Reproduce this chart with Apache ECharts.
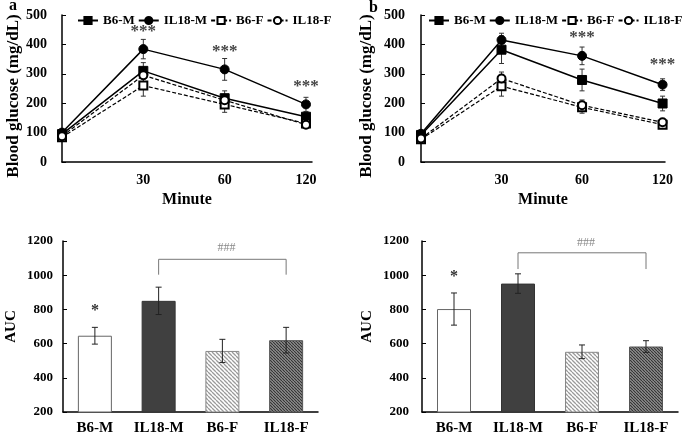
<!DOCTYPE html>
<html><head><meta charset="utf-8">
<script src="https://cdn.jsdelivr.net/npm/echarts/dist/echarts.min.js"></script>
<style>html,body{margin:0;padding:0;background:#fff}#c{width:685px;height:436px}</style>
</head><body><div id="c"></div>
<script>
// ---------- data ----------
const timeLabels = ['', '30', '60', '120'];
const groupNames = ['B6-M', 'IL18-M', 'B6-F', 'IL18-F'];

// panel a: blood glucose (mg/dL)
const aB6M = [95, 310, 217, 154];
const aIL18M = [100, 384, 315, 196];
const aB6F = [84, 260, 196, 131];
const aIL18F = [88, 295, 210, 127];
const aB6MErr = [8, 28, 25, 15];
const aIL18MErr = [10, 33, 37, 24];
const aB6FErr = [8, 36, 27, 12];
const aIL18FErr = [8, 22, 18, 10];
const aSigText = ['', '***', '***', '***'];
const aSigY = [null, 443, 375, 258];

// panel b: blood glucose (mg/dL)
const bB6M = [92, 382, 279, 199];
const bIL18M = [96, 415, 361, 263];
const bB6F = [77, 258, 186, 127];
const bIL18F = [80, 284, 193, 135];
const bB6MErr = [8, 47, 37, 25];
const bIL18MErr = [8, 23, 30, 20];
const bB6FErr = [6, 34, 20, 10];
const bIL18FErr = [6, 22, 18, 10];
const bSigText = ['', '', '***', '***'];
const bSigY = [null, null, 424, 330];

// AUC
const aucA = [646, 850, 557, 620];
const aucAErr = [49, 80, 68, 75];
const aucB = [802, 951, 552, 583];
const aucBErr = [94, 57, 40, 34];
const aucAStar = ['*', '', '', ''];
const aucAStarY = [793, null, null, null];
const aucBStar = ['*', '', '', ''];
const aucBStarY = [993, null, null, null];
// bracket: from category, to category, top value, leg-bottom value, label, label value
const bracketA = [1, 3, 1093, 1003, '###', 1162];
const bracketB = [1, 3, 1131, 1036, '###', 1188];

// ---------- helpers ----------
const FONT = 'Liberation Serif';
function hatch(bg, fg, size, lw) {
  const c = document.createElement('canvas');
  c.width = size; c.height = size;
  const g = c.getContext('2d');
  g.fillStyle = bg; g.fillRect(0, 0, size, size);
  g.strokeStyle = fg; g.lineWidth = lw;
  g.beginPath();
  for (let k = -1; k <= 1; k++) { g.moveTo(k * size, 0); g.lineTo(k * size + size, size); }
  g.stroke();
  return { image: c, repeat: 'repeat' };
}
const barStyles = [
  { color: '#ffffff', borderColor: '#666', borderWidth: 1 },
  { color: '#404040', borderColor: '#333', borderWidth: 1 },
  { color: hatch('#ffffff', '#9a9a9a', 4, 1.3), borderColor: '#888', borderWidth: 1 },
  { color: hatch('#9a9a9a', '#333333', 3, 1.2), borderColor: '#555', borderWidth: 1 }
];
const lineDefs = [
  { symbol: 'rect', size: 9, dashed: false },
  { symbol: 'circle', size: 9, dashed: false },
  { symbol: 'emptyRect', size: 8, dashed: true },
  { symbol: 'emptyCircle', size: 8, dashed: true }
];

function errRender(capW, color) {
  return function (params, api) {
    const x = api.value(0);
    const p1 = api.coord([x, api.value(1)]);
    const p2 = api.coord([x, api.value(2)]);
    const st = { stroke: color, lineWidth: 1 };
    return { type: 'group', children: [
      { type: 'line', shape: { x1: p1[0], y1: p1[1], x2: p2[0], y2: p2[1] }, style: st },
      { type: 'line', shape: { x1: p1[0] - capW, y1: p1[1], x2: p1[0] + capW, y2: p1[1] }, style: st },
      { type: 'line', shape: { x1: p2[0] - capW, y1: p2[1], x2: p2[0] + capW, y2: p2[1] }, style: st }
    ]};
  };
}
function textRender(size, color, texts) {
  return function (params, api) {
    const p = api.coord([api.value(0), api.value(1)]);
    return { type: 'text', x: p[0], y: p[1], style: {
      text: texts[params.dataIndex], font: 'bold ' + size + 'px ' + FONT, fill: color,
      align: 'center', verticalAlign: 'middle' } };
  };
}

const series = [];
function addLinePanel(idx, vals, errs, sigText, sigY) {
  vals.forEach((v, s) => {
    const d = lineDefs[s];
    series.push({
      type: 'line', name: groupNames[s], xAxisIndex: idx, yAxisIndex: idx,
      data: v.map((y, i) => [i, y]),
      symbol: d.symbol, symbolSize: d.size, showSymbol: true,
      itemStyle: { color: '#000', borderColor: '#000', borderWidth: 1 },
      lineStyle: { color: '#000', width: d.dashed ? 1.2 : 1.5, type: d.dashed ? [4, 2] : 'solid' },
      z: 3, animation: false
    });
    series.push({
      type: 'custom', xAxisIndex: idx, yAxisIndex: idx, silent: true,
      data: v.map((y, i) => [i, y - errs[s][i], y + errs[s][i]]),
      renderItem: errRender(2.5, '#333'), z: 2, animation: false
    });
  });
  const sigData = [], texts = [];
  sigY.forEach((y, i) => { if (y != null) { sigData.push([i, y]); texts.push(sigText[i]); } });
  series.push({
    type: 'custom', xAxisIndex: idx, yAxisIndex: idx, silent: true, data: sigData,
    renderItem: textRender(17, '#444', texts), animation: false
  });
}
addLinePanel(0, [aB6M, aIL18M, aB6F, aIL18F], [aB6MErr, aIL18MErr, aB6FErr, aIL18FErr], aSigText, aSigY);
addLinePanel(1, [bB6M, bIL18M, bB6F, bIL18F], [bB6MErr, bIL18MErr, bB6FErr, bIL18FErr], bSigText, bSigY);

function addBarPanel(idx, vals, errs, starText, starY, br) {
  series.push({
    type: 'bar', xAxisIndex: idx, yAxisIndex: idx, barWidth: 34,
    data: vals.map((v, i) => ({ value: v, itemStyle: barStyles[i] })),
    animation: false, silent: true
  });
  series.push({
    type: 'custom', xAxisIndex: idx, yAxisIndex: idx, silent: true,
    data: vals.map((v, i) => [i, v - errs[i], v + errs[i]]),
    renderItem: errRender(3, '#222'), z: 3, animation: false
  });
  const sd = [], st = [];
  starY.forEach((y, i) => { if (y != null) { sd.push([i, y]); st.push(starText[i]); } });
  series.push({
    type: 'custom', xAxisIndex: idx, yAxisIndex: idx, silent: true, data: sd,
    renderItem: textRender(16, '#333', st), animation: false
  });
  series.push({
    type: 'custom', xAxisIndex: idx, yAxisIndex: idx, silent: true,
    data: [[br[0], br[1], br[2], br[3], br[5]]],
    renderItem: (p, api) => {
      const L = api.coord([api.value(0), api.value(3)]);
      const LT = api.coord([api.value(0), api.value(2)]);
      const R = api.coord([api.value(1), api.value(3)]);
      const RT = api.coord([api.value(1), api.value(2)]);
      const T = api.coord([(api.value(0) + api.value(1)) / 2, api.value(4)]);
      return { type: 'group', children: [
        { type: 'polyline', shape: { points: [L, LT, RT, R] }, style: { stroke: '#777', lineWidth: 1, fill: null } },
        { type: 'text', x: T[0] + 4, y: T[1], style: { text: br[4], font: '12px ' + FONT, fill: '#888', align: 'center', verticalAlign: 'middle' } }
      ]};
    },
    animation: false
  });
}
addBarPanel(2, aucA, aucAErr, aucAStar, aucAStarY, bracketA);
addBarPanel(3, aucB, aucBErr, aucBStar, aucBStarY, bracketB);

// ---------- axes ----------
const axLine = { show: true, lineStyle: { color: '#000', width: 1.5 } };
function lineX(idx, max) {
  return { gridIndex: idx, type: 'value', min: 0, max: max, interval: 1,
    axisLine: axLine, axisTick: { show: false }, splitLine: { show: false },
    axisLabel: { formatter: v => timeLabels[v] || '', margin: 11, color: '#000',
      fontFamily: FONT, fontWeight: 'bold', fontSize: 14, showMaxLabel: false },
    name: 'Minute', nameLocation: 'middle', nameGap: 30,
    nameTextStyle: { fontFamily: FONT, fontWeight: 'bold', fontSize: 16, color: '#000' } };
}
function lineY(idx, gap, margin) {
  return { gridIndex: idx, type: 'value', min: 0, max: 500, interval: 100,
    axisLine: axLine, axisTick: { show: true, inside: true, length: 4, lineStyle: { color: '#000' } },
    splitLine: { show: false },
    axisLabel: { margin: margin, color: '#000', fontFamily: FONT, fontWeight: 'bold', fontSize: 14, formatter: v => String(v) },
    name: 'Blood glucose (mg/dL)', nameLocation: 'middle', nameGap: gap,
    nameTextStyle: { fontFamily: FONT, fontWeight: 'bold', fontSize: 17, color: '#000', padding: [0, 15, 0, 0] } };
}
function barX(idx) {
  return { gridIndex: idx, type: 'category', data: groupNames,
    axisLine: axLine, axisTick: { show: false },
    axisLabel: { interval: 0, margin: 9, color: '#000', fontFamily: FONT, fontWeight: 'bold', fontSize: 15 } };
}
function barY(idx, gap, margin) {
  return { gridIndex: idx, type: 'value', min: 200, max: 1200, interval: 200,
    axisLine: axLine, axisTick: { show: true, inside: true, length: 4, lineStyle: { color: '#000' } },
    splitLine: { show: false },
    axisLabel: { margin: margin, color: '#000', fontFamily: FONT, fontWeight: 'bold', fontSize: 13, formatter: v => String(v) },
    name: 'AUC', nameLocation: 'middle', nameGap: gap,
    nameTextStyle: { fontFamily: FONT, fontWeight: 'bold', fontSize: 15, color: '#000' } };
}

const legendBase = {
  data: groupNames, itemWidth: 20, itemHeight: 9, itemGap: 3, top: 9, width: 330,
  textStyle: { fontFamily: FONT, fontWeight: 'bold', fontSize: 13, color: '#000' },
  selectedMode: false
};

const option = {
  backgroundColor: '#fff',
  animation: false,
  grid: [
    { left: 62, top: 15, width: 250, height: 147 },
    { left: 421, top: 15, width: 244, height: 147 },
    { left: 63, top: 241, width: 255, height: 174 },
    { left: 422, top: 241, width: 256, height: 174 }
  ],
  xAxis: [lineX(0, 3.074), lineX(1, 3.03), barX(2), barX(3)],
  yAxis: [lineY(0, 40, 15), lineY(1, 46, 16), barY(2, 44, 10), barY(3, 47, 13)],
  legend: [
    Object.assign({ left: 72 }, legendBase),
    Object.assign({ left: 423 }, legendBase)
  ],
  title: [
    { text: 'a', left: 4, top: -7, textStyle: { fontFamily: FONT, fontWeight: 'bold', fontSize: 16, color: '#000' } },
    { text: 'b', left: 364, top: -5, textStyle: { fontFamily: FONT, fontWeight: 'bold', fontSize: 16, color: '#000' } }
  ],
  series: series
};
const chart = echarts.init(document.getElementById('c'), null, { renderer: 'canvas' });
chart.setOption(option);
</script>
</body></html>
